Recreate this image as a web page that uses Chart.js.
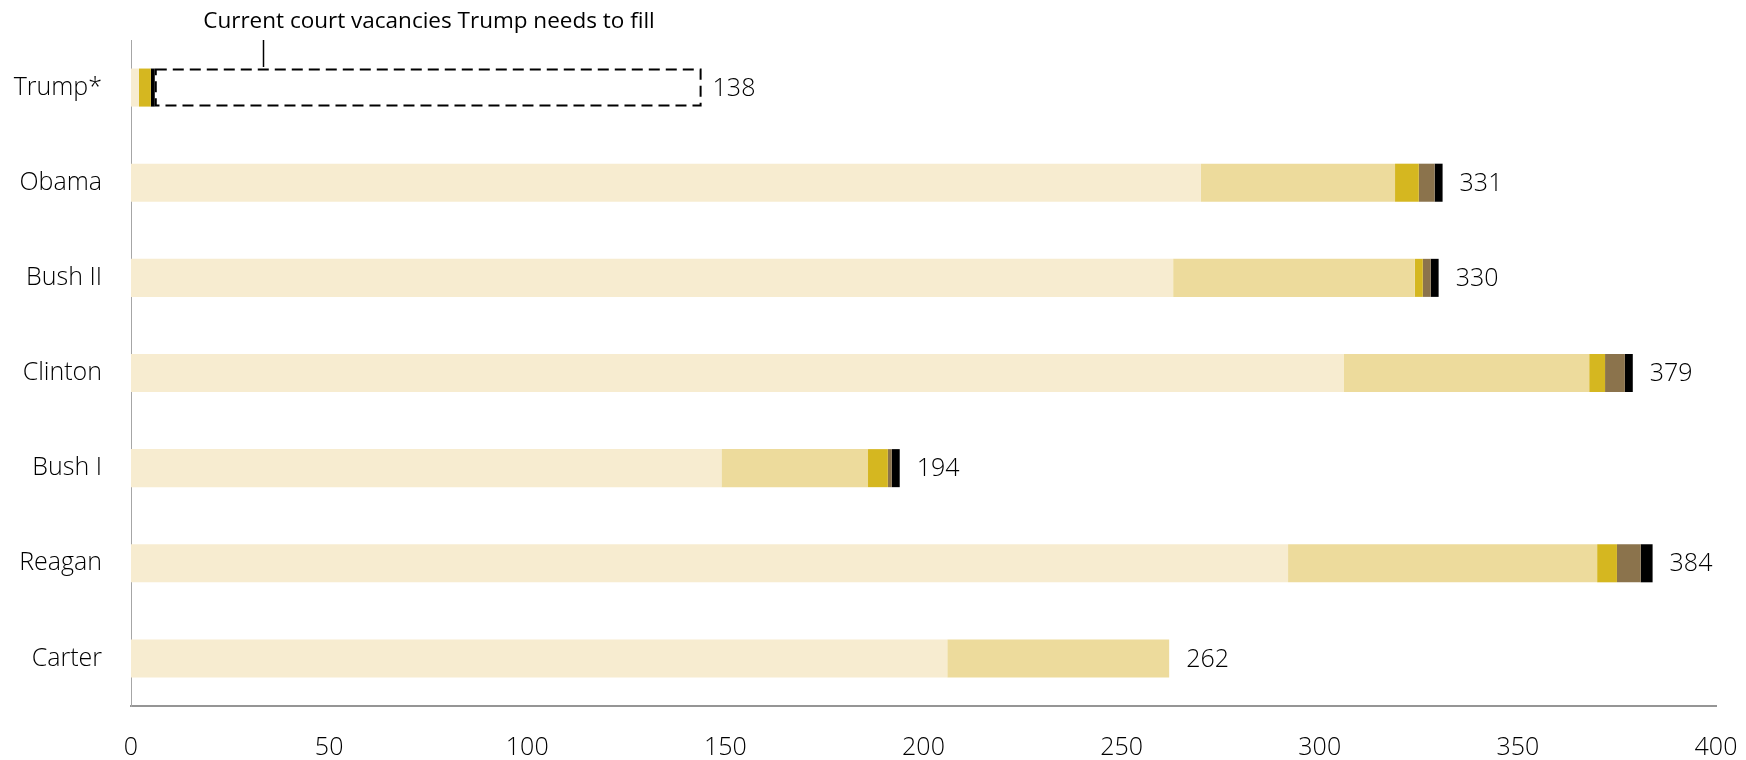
<!DOCTYPE html>
<html>
<head>
<meta charset="utf-8">
<script src="https://cdn.jsdelivr.net/npm/chart.js@4.4.1/dist/chart.umd.min.js"></script>
<style>
  html, body { margin: 0; padding: 0; background: #ffffff; }
  #wrap { width: 1746px; height: 760px; }
</style>
</head>
<body>
<div id="wrap"><canvas id="chart" width="1746" height="760"></canvas></div>
<script>
// Federal judicial appointments by president
const categories = ['Trump*', 'Obama', 'Bush II', 'Clinton', 'Bush I', 'Reagan', 'Carter'];
const districtCourts = [2, 270, 263, 306, 149, 292, 206];
const circuitCourts = [0, 49, 61, 62, 37, 78, 56];
const claimsCourt = [3, 6, 2, 4, 5, 5, 0];
const tradeCourt = [0, 4, 2, 5, 1, 6, 0];
const supremeCourt = [1, 2, 2, 2, 2, 3, 0];
const vacancies = [138, 0, 0, 0, 0, 0, 0];
const xTicks = [0, 50, 100, 150, 200, 250, 300, 350, 400];

const FONT = "'Open Sans', 'DejaVu Sans', sans-serif";

const seriesList = [
  { label: 'District courts', data: districtCourts, color: '#F7ECD0' },
  { label: 'Circuit courts', data: circuitCourts, color: '#EDDB9C' },
  { label: 'Court of Federal Claims', data: claimsCourt, color: '#D5B720' },
  { label: 'Court of International Trade', data: tradeCourt, color: '#8B734C' },
  { label: 'Supreme Court', data: supremeCourt, color: '#000000' }
];

const datasets = seriesList.map(s => ({
  label: s.label,
  data: s.data,
  backgroundColor: s.color,
  borderWidth: 0
}));
datasets.push({
  label: 'Vacancies',
  data: vacancies,
  backgroundColor: 'rgba(0,0,0,0)',
  borderWidth: 0
});

// dashed outline around the open-vacancy segment
const dashedBox = {
  id: 'dashedBox',
  afterDatasetsDraw(chart) {
    const ctx = chart.ctx;
    const meta = chart.getDatasetMeta(datasets.length - 1);
    meta.data.forEach((el, i) => {
      if (!vacancies[i]) return;
      const p = el.getProps(['x', 'y', 'base', 'height'], true);
      const left = Math.min(p.x, p.base), right = Math.max(p.x, p.base);
      const top = p.y - p.height / 2, bottom = p.y + p.height / 2;
      ctx.save();
      ctx.strokeStyle = '#000000';
      ctx.lineWidth = 2;
      ctx.setLineDash([11, 6]);
      ctx.strokeRect(left + 1, top + 1, right - left - 2, bottom - top - 2);
      ctx.restore();
    });
  }
};

// value at the end of each bar
const endLabels = {
  id: 'endLabels',
  afterDatasetsDraw(chart) {
    const ctx = chart.ctx;
    ctx.save();
    ctx.font = '300 25px ' + FONT;
    ctx.fillStyle = '#000000';
    ctx.textAlign = 'left';
    ctx.textBaseline = 'middle';
    categories.forEach((c, i) => {
      let lastIdx = -1;
      datasets.forEach((d, k) => { if (d.data[i]) lastIdx = k; });
      if (lastIdx < 0) return;
      const el = chart.getDatasetMeta(lastIdx).data[i];
      const total = vacancies[i] ? vacancies[i]
        : seriesList.reduce((s, ser) => s + ser.data[i], 0);
      const gap = vacancies[i] ? 11 : 17;
      ctx.fillText(String(total), el.x + gap, el.y + 1);
    });
    ctx.restore();
  }
};

// callout above the Trump bar
const callout = {
  id: 'callout',
  afterDraw(chart) {
    const ctx = chart.ctx;
    const xs = chart.scales.x;
    const area = chart.chartArea;
    const lx = Math.round(xs.getPixelForValue(33.3)) + 0.5;
    ctx.save();
    ctx.strokeStyle = '#000000';
    ctx.lineWidth = 1.5;
    ctx.beginPath();
    ctx.moveTo(lx, area.top);
    ctx.lineTo(lx, area.top + 27);
    ctx.stroke();
    ctx.font = '22.5px ' + FONT;
    ctx.fillStyle = '#000000';
    ctx.textAlign = 'center';
    ctx.textBaseline = 'middle';
    ctx.fillText('Current court vacancies Trump needs to fill', 429, 22);
    ctx.restore();
  }
};

new Chart(document.getElementById('chart'), {
  type: 'bar',
  data: { labels: categories, datasets: datasets },
  options: {
    indexAxis: 'y',
    responsive: false,
    animation: false,
    devicePixelRatio: 1,
    layout: { padding: { top: 40, right: 30, left: 0, bottom: 0 } },
    datasets: { bar: { categoryPercentage: 1, barPercentage: 0.4 } },
    plugins: { legend: { display: false }, tooltip: { enabled: false } },
    scales: {
      x: {
        stacked: true,
        min: 0,
        max: 400,
        afterBuildTicks(scale) { scale.ticks = xTicks.map(v => ({ value: v })); },
        afterFit(scale) { scale.height = 54; scale.paddingLeft = 0; scale.paddingRight = 0; },
        grid: { display: false, drawTicks: false },
        border: { display: true, color: '#959595', width: 2 },
        ticks: { color: '#000000', padding: 27, font: { family: FONT, size: 25, weight: '300' } }
      },
      y: {
        stacked: true,
        afterFit(scale) { scale.width = 131; scale.paddingTop = 0; scale.paddingBottom = 0; },
        grid: { display: false, drawTicks: false },
        border: { display: true, color: '#a6a6a6', width: 1 },
        ticks: { color: '#000000', padding: 29, font: { family: FONT, size: 25, weight: '300' } }
      }
    }
  },
  plugins: [dashedBox, endLabels, callout]
});
</script>
</body>
</html>
